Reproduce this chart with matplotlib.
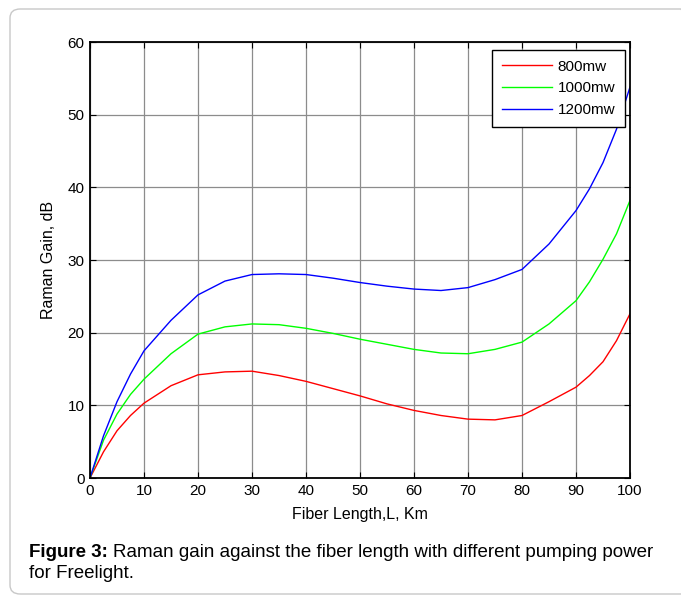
import matplotlib.pyplot as plt
from matplotlib.patches import FancyBboxPatch

plt.rcParams['font.family'] = ['Liberation Sans', 'DejaVu Sans']

# fiber length (km)
length = [0, 2.5, 5, 7.5, 10, 15, 20, 25, 30, 35, 40, 45, 50, 55, 60,
          65, 70, 75, 80, 85, 90, 92.5, 95, 97.5, 100]

# raman gain (dB) for each pump power
gain_800 = [0, 3.6, 6.5, 8.6, 10.3, 12.7, 14.2, 14.6, 14.7, 14.1, 13.3, 12.3,
            11.3, 10.2, 9.3, 8.6, 8.1, 8.0, 8.6, 10.5, 12.5, 14.1, 16.0, 18.9, 22.6]
gain_1000 = [0, 5.2, 8.8, 11.5, 13.6, 17.1, 19.8, 20.8, 21.2, 21.1, 20.6, 19.9,
             19.1, 18.4, 17.7, 17.2, 17.1, 17.7, 18.7, 21.2, 24.4, 27.0, 30.1, 33.6, 38.2]
gain_1200 = [0, 5.8, 10.5, 14.3, 17.5, 21.7, 25.2, 27.1, 28.0, 28.1, 28.0, 27.5,
             26.9, 26.4, 26.0, 25.8, 26.2, 27.3, 28.7, 32.2, 36.8, 39.8, 43.4, 48.0, 53.8]

labels = ['800mw', '1000mw', '1200mw']
x_ticks = list(range(0, 101, 10))
y_ticks = list(range(0, 61, 10))

fig = plt.figure(figsize=(6.81, 5.97), dpi=100)

# light rounded frame around the figure + caption
frame = FancyBboxPatch((10 / 681, 3 / 597), 1.0, 585 / 597,
                       boxstyle='round,pad=0,rounding_size=0.015',
                       transform=fig.transFigure, facecolor='none',
                       edgecolor='#c8c8c8', linewidth=1.0, clip_on=False)
fig.patches.append(frame)

ax = fig.add_axes([90 / 681, 1 - 478 / 597, 540 / 681, 436 / 597])
ax.plot(length, gain_800, color='#ff0000', linewidth=1.0, label=labels[0])
ax.plot(length, gain_1000, color='#00ff00', linewidth=1.0, label=labels[1])
ax.plot(length, gain_1200, color='#0000ff', linewidth=1.0, label=labels[2])

ax.set_xlim(0, 100)
ax.set_ylim(0, 60)
ax.set_xticks(x_ticks)
ax.set_yticks(y_ticks)
ax.grid(True, color='#8c8c8c', linewidth=0.9)
ax.tick_params(direction='in', top=True, right=True, length=4, labelsize=11, pad=4)
for s in ax.spines.values():
    s.set_linewidth(1.3)

ax.set_xlabel('Fiber Length,L, Km', fontsize=11.5, labelpad=6.5)
ax.set_ylabel('Raman Gain, dB', fontsize=11.5, labelpad=8)

leg = ax.legend(loc='upper right', bbox_to_anchor=(0.991, 0.982), fontsize=11,
                fancybox=False, edgecolor='black', framealpha=1,
                handlelength=3.3, handletextpad=0.35, borderpad=0.65,
                labelspacing=0.5, borderaxespad=0)
leg.get_frame().set_linewidth(1.0)

fig.text(29 / 681, 1 - 557 / 597, 'Figure 3:', fontsize=13.5, fontweight='bold',
         va='baseline', ha='left')
fig.text(113 / 681, 1 - 557 / 597,
         'Raman gain against the fiber length with different pumping power',
         fontsize=13.5, va='baseline', ha='left')
fig.text(29 / 681, 1 - 578 / 597, 'for Freelight.', fontsize=13.5,
         va='baseline', ha='left')

fig.savefig('out.png', dpi=100)
